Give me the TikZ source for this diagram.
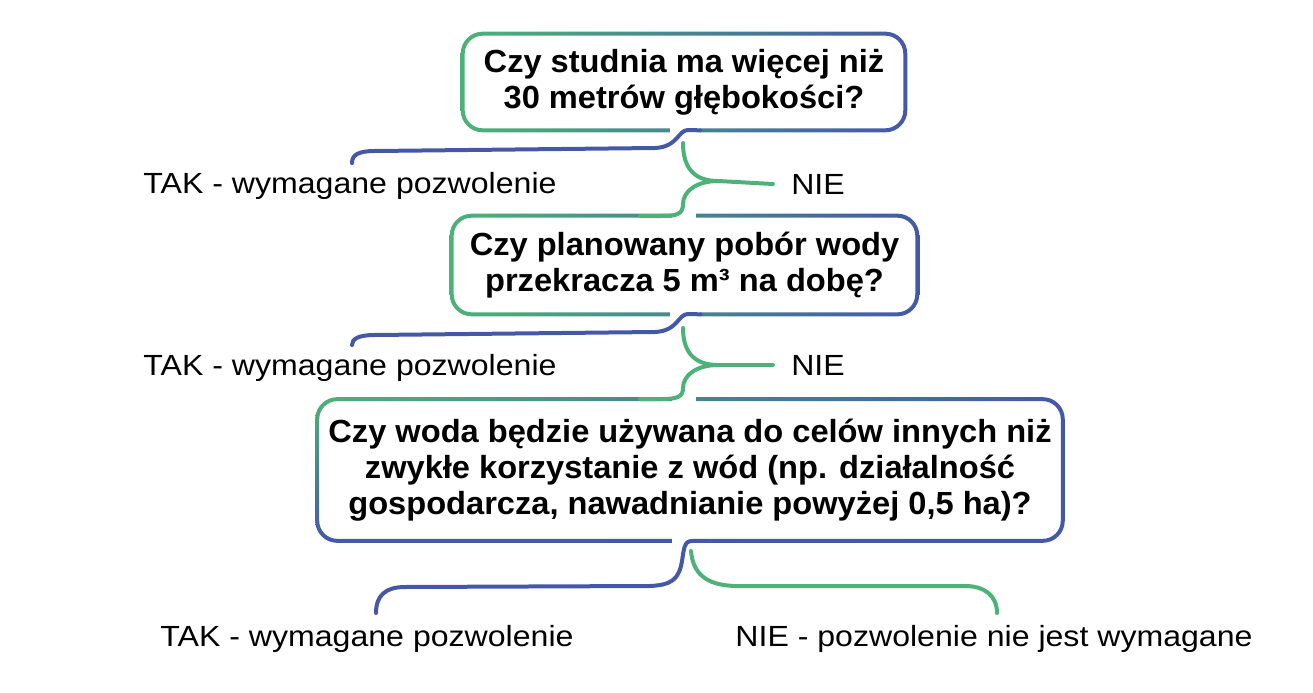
\documentclass[tikz,border=0pt]{standalone}
\usepackage{fontspec}
\setmainfont{Liberation Sans}
\newfontfamily\qfont{Liberation Sans}[FakeStretch=1.02]
\newfontfamily\afont{Liberation Sans}[FakeStretch=1.1]
\usetikzlibrary{calc,shadings}
\definecolor{zielony}{RGB}{77,178,119}
\definecolor{niebieski}{RGB}{68,88,168}
\tikzset{
  pytanie/.style={align=center, inner sep=0pt, font=\qfont\bfseries\fontsize{18.2}{20.6}\selectfont},
  odp/.style={inner sep=0pt, font=\afont\fontsize{16.6}{18}\selectfont},
  tak/.style={draw=niebieski, line width=0.08cm},
  nie/.style={draw=zielony, line width=0.08cm},
  luka/.style={fill=white},
}
% ramka z gradientem wokol wezla: nazwa, lg, pg, ld, pd
\newcommand\ramka[5]{%
  \shade[even odd rule, upper left=#2, upper right=#3, lower left=#4, lower right=#5]
    [rounded corners=0.44cm] ($(#1.south west)+(-0.04cm,-0.04cm)$) rectangle ($(#1.north east)+(0.04cm,0.04cm)$)
    [rounded corners=0.36cm] ($(#1.south west)+(0.04cm,0.04cm)$) rectangle ($(#1.north east)+(-0.04cm,-0.04cm)$);}
\begin{document}
\begin{tikzpicture}[x=0.02cm, y=-0.02cm, line join=round, line cap=round]
  \useasboundingbox (0,0) rectangle (1313,693);
  % pytania
  \node[pytanie, minimum width=8.84cm, minimum height=1.92cm] (q1) at (684,82) {Czy studnia ma więcej niż\\30 metrów głębokości?};
  \node[pytanie, minimum width=9.3cm, minimum height=1.96cm] (q2) at (684.5,265) {Czy planowany pobór wody\\przekracza 5 m³ na dobę?};
  \node[pytanie, minimum width=14.9cm, minimum height=2.82cm] (q3) at (690,470) {Czy woda będzie używana do celów innych niż\\zwykłe korzystanie z wód (np. działalność\\gospodarcza, nawadnianie powyżej 0,5 ha)?};
  \ramka{q1}{zielony}{niebieski}{zielony}{niebieski}
  \ramka{q2}{zielony}{niebieski}{zielony}{niebieski}
  \ramka{q3}{zielony}{niebieski}{niebieski}{niebieski}
  % odpowiedzi
  \node[odp] (tak1) at (350,186) {TAK - wymagane pozwolenie};
  \node[odp] (nie1) at (818,184) {NIE};
  \node[odp] (tak2) at (350,368) {TAK - wymagane pozwolenie};
  \node[odp] (nie2) at (818,365) {NIE};
  \node[odp] (tak3) at (367,639) {TAK - wymagane pozwolenie};
  \node[odp] (nie3) at (994,639) {NIE - pozwolenie nie jest wymagane};
  % przerwy w ramkach
  \fill[luka] (670,125) rectangle (700,136);
  \fill[luka] (672,211) rectangle (696,221);
  \fill[luka] (670,309) rectangle (700,319);
  \fill[luka] (672,394) rectangle (696,404);
  \fill[luka] (672,536) rectangle (705,547);
  % klamry
  \coordinate (w1) at (718,181);
  \coordinate (w2) at (718,365);
  \draw[tak] ($(q1.south)+(16,0)$) -- (688,130) .. controls (678,130) and (678,147) .. (655,148)
    -- (375,151) .. controls (358,151) and (352,155) .. ($(tak1.north)+(2,-9)$);
  \draw[nie] (683,143) .. controls (683,171) and (697,181) .. (w1) .. controls (697,181) and (683,191) .. (683,204)
    .. controls (683,214) and (677,216) .. (662,216) -- (640,216);
  \draw[nie] (w1) -- ($(nie1.west)+(-18,0)$);
  \draw[tak] ($(q2.south)+(16,0)$) -- (688,314) .. controls (678,314) and (678,331) .. (655,332)
    -- (375,335) .. controls (358,335) and (352,339) .. ($(tak2.north)+(2,-9)$);
  \draw[nie] (683,328) .. controls (683,355) and (697,365) .. (w2) .. controls (697,365) and (683,375) .. (683,388)
    .. controls (683,397) and (677,399) .. (662,399) -- (640,399);
  \draw[nie] (w2) -- ($(nie2.west)+(-18,0)$);
  \draw[tak] ($(q3.south)+(15,0)$) -- (692,541) .. controls (684,541) and (684,549) .. (682,561)
    .. controls (679,579) and (672,585) .. (650,586) -- (405,587) .. controls (385,587) and (376,596) .. (376,613);
  \draw[nie] (691,551) .. controls (693,573) and (705,585) .. (735,586) -- (965,586)
    .. controls (985,586) and (997,596) .. (997,613);
\end{tikzpicture}
\end{document}
